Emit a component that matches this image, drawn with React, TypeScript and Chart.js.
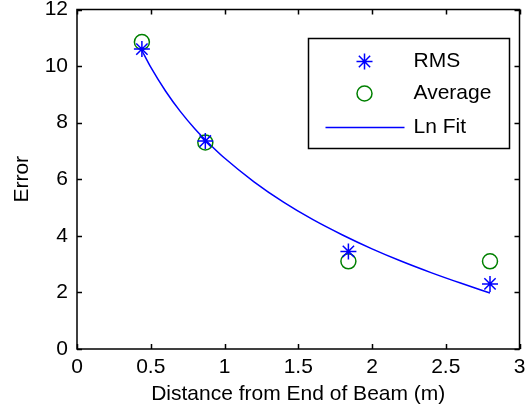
import React, { useEffect, useRef } from "react";
import { Chart, registerables } from "chart.js";

Chart.register(...registerables);

const distances = [0.44, 0.87, 1.84, 2.8];
const rmsValues = [10.6, 7.35, 3.45, 2.3];
const averageValues = [10.85, 7.3, 3.1, 3.1];
const fitX = [0.44, 0.5, 0.6, 0.7, 0.8, 0.9, 1.0, 1.2, 1.4, 1.6, 1.8, 2.0, 2.2, 2.4, 2.6, 2.8];
const fitY = [10.55, 9.96, 9.12, 8.4, 7.78, 7.24, 6.75, 5.91, 5.19, 4.57, 4.03, 3.54, 3.1, 2.7, 2.33, 1.98];
const seriesNames = ["RMS", "Average", "Ln Fit"];
const xTitle = "Distance from End of Beam (m)";
const yTitle = "Error";

const FONT = "'Liberation Sans', Arial, Helvetica, sans-serif";
const FS = 21;

const boxPlugin = {
  id: "matlabBox",
  afterDraw(chart: any) {
    const { ctx, chartArea } = chart;
    const { left, right, top, bottom } = chartArea;
    const xs = chart.scales.x;
    const ys = chart.scales.y;
    ctx.save();
    ctx.strokeStyle = "#000";
    ctx.lineWidth = 1.5;
    ctx.strokeRect(left, top, right - left, bottom - top);
    const tl = 5;
    ctx.beginPath();
    xs.ticks.forEach((t: any) => {
      const px = Math.round(xs.getPixelForValue(t.value)) + 0.5;
      ctx.moveTo(px, bottom);
      ctx.lineTo(px, bottom - tl);
      ctx.moveTo(px, top);
      ctx.lineTo(px, top + tl);
    });
    ys.ticks.forEach((t: any) => {
      const py = Math.round(ys.getPixelForValue(t.value)) + 0.5;
      ctx.moveTo(left, py);
      ctx.lineTo(left + tl, py);
      ctx.moveTo(right, py);
      ctx.lineTo(right - tl, py);
    });
    ctx.stroke();

    // legend
    const lx = right - 211;
    const ly = top + 29;
    const lw = 201;
    const lh = 110;
    ctx.fillStyle = "#fff";
    ctx.fillRect(lx, ly, lw, lh);
    ctx.strokeRect(lx, ly, lw, lh);
    const mx = lx + 56;
    const tx = lx + 105;
    const rows = [ly + 23, ly + 55, ly + 89];
    ctx.font = `${FS}px ${FONT}`;
    ctx.textBaseline = "middle";
    ctx.textAlign = "left";
    chart.data.datasets.forEach((ds: any, i: number) => {
      const y = rows[i];
      if (i === 2) {
        ctx.strokeStyle = ds.borderColor;
        ctx.lineWidth = 1.5;
        ctx.beginPath();
        ctx.moveTo(lx + 17, y);
        ctx.lineTo(lx + 96, y);
        ctx.stroke();
      } else {
        ctx.save();
        ctx.strokeStyle = ds.pointBorderColor;
        ctx.lineWidth = ds.pointBorderWidth;
        ctx.beginPath();
        if (ds.pointStyle === "circle") {
          ctx.arc(mx, y, ds.pointRadius, 0, Math.PI * 2);
        } else {
          const r = ds.pointRadius;
          for (let k = 0; k < 4; k++) {
            const a = (k * Math.PI) / 4;
            ctx.moveTo(mx - Math.cos(a) * r, y - Math.sin(a) * r);
            ctx.lineTo(mx + Math.cos(a) * r, y + Math.sin(a) * r);
          }
        }
        ctx.stroke();
        ctx.restore();
      }
      ctx.fillStyle = "#000";
      ctx.fillText(ds.label, tx, y);
    });
    ctx.restore();
  },
};

const noPad = (s: any) => {
  s.paddingTop = 0;
  s.paddingBottom = 0;
  s.paddingLeft = 0;
  s.paddingRight = 0;
};

export default function App() {
  const ref = useRef<HTMLCanvasElement>(null);
  useEffect(() => {
    document.body.style.margin = "0";
    const chart = new Chart(ref.current!, {
      type: "scatter",
      data: {
        datasets: [
          {
            label: seriesNames[0],
            data: distances.map((x, i) => ({ x, y: rmsValues[i] })),
            pointStyle: "star",
            pointRadius: 8,
            pointBorderColor: "#0000ff",
            pointBackgroundColor: "#0000ff",
            pointBorderWidth: 1.5,
            showLine: false,
            order: 1,
          },
          {
            label: seriesNames[1],
            data: distances.map((x, i) => ({ x, y: averageValues[i] })),
            pointStyle: "circle",
            pointRadius: 7.5,
            pointBorderColor: "#008000",
            pointBackgroundColor: "rgba(0,0,0,0)",
            pointBorderWidth: 1.5,
            showLine: false,
            order: 2,
          },
          {
            label: seriesNames[2],
            data: fitX.map((x, i) => ({ x, y: fitY[i] })),
            showLine: true,
            borderColor: "#0000ff",
            borderWidth: 1.5,
            pointRadius: 0,
            cubicInterpolationMode: "monotone",
            fill: false,
            order: 3,
          } as any,
        ],
      },
      options: {
        animation: false,
        responsive: false,
        layout: { padding: { left: 0, right: 8, top: 9, bottom: 0 } },
        plugins: { legend: { display: false }, tooltip: { enabled: false } },
        scales: {
          x: {
            type: "linear",
            min: 0,
            max: 3,
            grid: { display: false, drawTicks: false },
            border: { display: false },
            ticks: { stepSize: 0.5, padding: 6, color: "#000", font: { family: FONT, size: FS }, callback: (v: any) => String(v) },
            title: { display: true, text: xTitle, color: "#000", font: { family: FONT, size: FS }, padding: { top: 0, bottom: 5 } },
            afterFit: (s: any) => { s.height = 63; noPad(s); },
          },
          y: {
            type: "linear",
            min: 0,
            max: 12,
            grid: { display: false, drawTicks: false },
            border: { display: false },
            ticks: { stepSize: 2, padding: 9, color: "#000", font: { family: FONT, size: FS }, callback: (v: any) => String(v) },
            title: { display: true, text: yTitle, color: "#000", font: { family: FONT, size: FS }, padding: { top: 10, bottom: 0 } },
            afterFit: (s: any) => { s.width = 77; noPad(s); },
          },
        },
      },
      plugins: [boxPlugin],
    });
    return () => chart.destroy();
  }, []);
  return (
    <div style={{ position: "absolute", left: 0, top: 0, width: 529, height: 412, background: "#fff" }}>
      <canvas ref={ref} width={529} height={412} />
    </div>
  );
}
